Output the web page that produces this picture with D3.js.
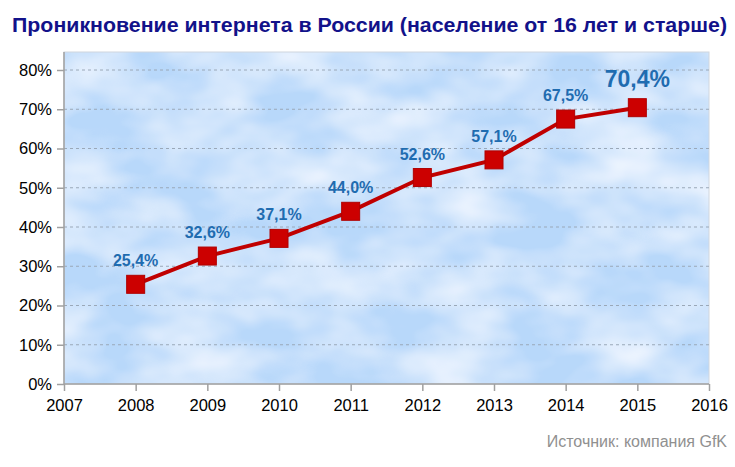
<!DOCTYPE html>
<html lang="ru">
<head>
<meta charset="utf-8">
<title>internet</title>
<script src="https://cdn.jsdelivr.net/npm/d3@7"></script>
<style>
  body { margin: 0; background: #fff; }
  svg { display: block; font-family: "Liberation Sans", Arial, sans-serif; }
</style>
</head>
<body>
<script>
var years = [2008, 2009, 2010, 2011, 2012, 2013, 2014, 2015];
var values = [25.4, 32.6, 37.1, 44.0, 52.6, 57.1, 67.5, 70.4];
var labels = ["25,4%", "32,6%", "37,1%", "44,0%", "52,6%", "57,1%", "67,5%", "70,4%"];
var yTicks = [0, 10, 20, 30, 40, 50, 60, 70, 80];
var xTicks = [2007, 2008, 2009, 2010, 2011, 2012, 2013, 2014, 2015, 2016];

var w = 735, h = 467;
var margin = {top: 52, left: 64, right: 26, bottom: 83};

var svg = d3.select("body").append("svg")
    .attr("width", w)
    .attr("height", h);

var x = d3.scaleLinear().domain([2007, 2016]).range([margin.left, w - margin.right]);
var y = d3.scaleLinear().domain([0, 80]).range([h - margin.bottom, 70]);

// cloudy background
var defs = svg.append("defs");
var f = defs.append("filter").attr("id", "clouds")
    .attr("x", 0).attr("y", 0).attr("width", "100%").attr("height", "100%");
f.append("feTurbulence").attr("type", "fractalNoise")
    .attr("baseFrequency", "0.012 0.02").attr("numOctaves", 3).attr("seed", 7).attr("result", "n");
f.append("feColorMatrix").attr("in", "n").attr("type", "matrix")
    .attr("values", "0 0 0 0 0.88  0 0 0 0 0.93  0 0 0 0 1  1.7 0 0 0 -0.55").attr("result", "c");
f.append("feComposite").attr("in", "c").attr("in2", "SourceGraphic").attr("operator", "over");

svg.append("rect")
    .attr("x", margin.left).attr("y", margin.top)
    .attr("width", x(2016) - margin.left)
    .attr("height", y(0) - margin.top)
    .attr("fill", "#b8d8fa")
    .attr("filter", "url(#clouds)");

svg.append("rect")
    .attr("x", margin.left).attr("y", margin.top)
    .attr("width", x(2016) - margin.left)
    .attr("height", y(0) - margin.top)
    .attr("fill", "none")
    .attr("stroke", "#d0d6de");

// grid
svg.append("g").selectAll("line")
    .data(yTicks.filter(function(d) { return d > 0; }))
    .enter().append("line")
    .attr("x1", margin.left).attr("x2", x(2016))
    .attr("y1", function(d) { return y(d); })
    .attr("y2", function(d) { return y(d); })
    .attr("stroke", "#9aa8b8")
    .attr("stroke-dasharray", "3,3");

// axes
var yaxis = d3.axisLeft(y).tickValues(yTicks).tickSize(7).tickPadding(5)
    .tickFormat(function(d) { return d + "%"; });
var xaxis = d3.axisBottom(x).tickValues(xTicks).tickSize(7).tickPadding(8)
    .tickFormat(d3.format("d"));

var gy = svg.append("g").attr("transform", "translate(" + margin.left + ",0)").call(yaxis);
var gx = svg.append("g").attr("transform", "translate(0," + y(0) + ")").call(xaxis);
[gy, gx].forEach(function(g) {
  g.selectAll(".domain").attr("stroke", "#a0a0a0").attr("stroke-width", 1.5);
  g.selectAll(".tick line").attr("stroke", "#a0a0a0").attr("stroke-width", 1.5);
  g.selectAll("text").attr("font-size", 16.5).attr("fill", "#000")
    .attr("font-family", "'Liberation Sans', Arial, sans-serif");
});
gy.select(".domain").attr("d", "M0," + margin.top + "V" + y(0));
gx.select(".domain").attr("d", "M" + margin.left + ",0H" + x(2016));

// line + markers
var line = d3.line()
    .x(function(d, i) { return x(years[i]); })
    .y(function(d) { return y(d); });

svg.append("path").datum(values)
    .attr("d", line)
    .attr("fill", "none")
    .attr("stroke", "#c00000")
    .attr("stroke-width", 4);

svg.append("g").selectAll("rect")
    .data(values).enter().append("rect")
    .attr("x", function(d, i) { return x(years[i]) - 9; })
    .attr("y", function(d) { return y(d) - 9; })
    .attr("width", 18).attr("height", 18)
    .attr("fill", "#cc0000")
    .attr("stroke", "#b00000");

// value labels
svg.append("g").selectAll("text")
    .data(values).enter().append("text")
    .attr("x", function(d, i) { return x(years[i]) + (i == 7 ? 0 : 0); })
    .attr("y", function(d, i) { return y(d) - (i == 7 ? 21 : 18); })
    .attr("text-anchor", "middle")
    .attr("fill", "#1f6cb0")
    .attr("font-weight", "bold")
    .attr("font-size", function(d, i) { return i == 7 ? 23 : 16; })
    .text(function(d, i) { return labels[i]; });

// title
svg.append("text")
    .attr("x", 12).attr("y", 32)
    .attr("textLength", 715)
    .attr("lengthAdjust", "spacingAndGlyphs")
    .attr("font-size", 21)
    .attr("font-weight", "bold")
    .attr("fill", "#12128a")
    .text("Проникновение интернета в России (население от 16 лет и старше)");

// source
svg.append("text")
    .attr("x", 727).attr("y", 447)
    .attr("text-anchor", "end")
    .attr("font-size", 16)
    .attr("fill", "#909090")
    .text("Источник: компания GfK");
</script>
</body>
</html>
